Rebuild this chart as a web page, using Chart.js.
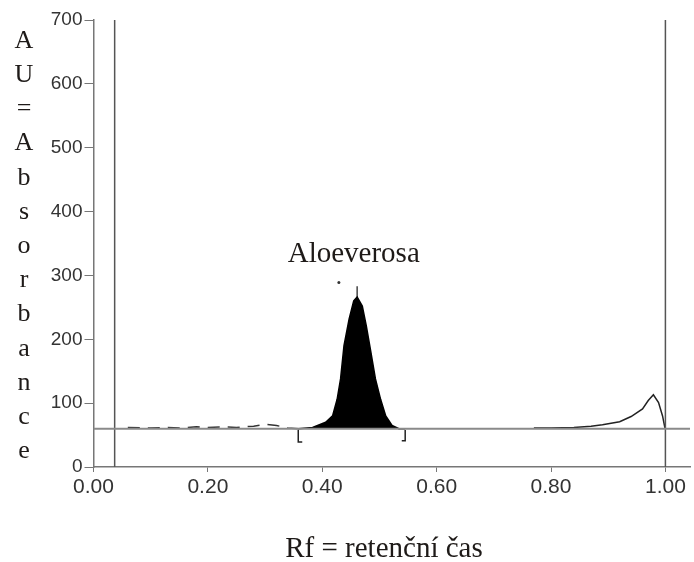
<!DOCTYPE html>
<html>
<head>
<title>Aloeverosa - chromatogram</title>
<script src="https://cdn.jsdelivr.net/npm/chart.js@4.4.0/dist/chart.umd.min.js"></script>
<style>
  body { margin: 0; background: #fff; }
</style>
</head>
<body>
<canvas id="chrom" width="694" height="562"></canvas>
<script>
// axis ticks
const rfTicks = [0, 0.2, 0.4, 0.6, 0.8, 1.0];
const auMax = 700;
const rfMax = 1.043;

// baseline and lane markers (start / front)
const baselineAU = 60;
const laneRf = [0.037, 1.0];

// small noise left of the peak
const noiseRf = [0.06, 0.10, 0.13, 0.15, 0.18, 0.20, 0.23, 0.25, 0.28, 0.30, 0.32, 0.34, 0.36];
const noiseAU = [62, 61, 62, 61, 63, 62, 63, 62, 64, 67, 65, 61, 60];

// main peak - Aloeverosa
const peakRf = [0.358, 0.383, 0.406, 0.418, 0.426, 0.432, 0.438, 0.447, 0.455, 0.461, 0.470, 0.477, 0.485, 0.493, 0.502, 0.511, 0.522, 0.534, 0.545];
const peakAU = [60, 62, 70, 80, 106, 138, 190, 232, 260, 266, 252, 221, 180, 138, 106, 80, 65, 60, 60];

// peak top marker and dot
const markRf = [0.461, 0.461];
const markAU = [266, 283];
const dotRf = [0.429];
const dotAU = [289];

// integration brackets
const bracketLRf = [0.365, 0.358, 0.358];
const bracketLAU = [39, 39, 58];
const bracketRRf = [0.539, 0.545, 0.545];
const bracketRAU = [41, 41, 58];

// bump at the solvent front
const bumpRf = [0.77, 0.80, 0.84, 0.87, 0.89, 0.92, 0.94, 0.96, 0.97, 0.979, 0.988, 0.995, 0.999, 1.0];
const bumpAU = [61, 61, 62, 64, 66, 71, 79, 91, 104, 113, 101, 80, 62, 60];

const yTitle = 'AU = Absorbance';
const xTitle = 'Rf = retenční čas';
const peakName = 'Aloeverosa';

function pts(xs, ys) { return xs.map((x, i) => ({ x: x, y: ys[i] })); }

const serif = '"Liberation Serif", "Times New Roman", serif';

const textPlugin = {
  id: 'texts',
  afterDraw(chart) {
    const ctx = chart.ctx;
    const sx = chart.scales.x, sy = chart.scales.y;
    ctx.save();
    ctx.fillStyle = '#1e1a18';
    ctx.textAlign = 'center';
    ctx.textBaseline = 'middle';
    ctx.font = '26px ' + serif;
    const letters = yTitle.replace(/ /g, '').split('');
    letters.forEach((ch, i) => ctx.fillText(ch, 24, 41 + i * 34.2));
    ctx.textBaseline = 'alphabetic';
    ctx.font = '29px ' + serif;
    ctx.fillText(xTitle, 384, 557);
    ctx.fillText(peakName, sx.getPixelForValue(0.455), 262);
    ctx.restore();
  }
};

const line = (data, extra) => Object.assign({
  data: data, showLine: true, pointRadius: 0, borderColor: '#111',
  borderWidth: 1.5, fill: false, tension: 0
}, extra || {});

new Chart(document.getElementById('chrom'), {
  type: 'scatter',
  data: {
    datasets: [
      line(pts([0, rfMax], [baselineAU, baselineAU]), { borderColor: '#8a8a8a', borderWidth: 2 }),
      line(pts([laneRf[0], laneRf[0]], [0, auMax]), { borderColor: '#555', borderWidth: 1.5 }),
      line(pts([laneRf[1], laneRf[1]], [0, auMax]), { borderColor: '#555', borderWidth: 1.5 }),
      line(pts(noiseRf, noiseAU), { borderDash: [12, 8], borderColor: '#333' }),
      line(pts(peakRf, peakAU), { fill: { value: baselineAU }, backgroundColor: '#000', borderColor: '#000' }),
      line(pts(markRf, markAU), { borderColor: '#444', borderWidth: 1.5 }),
      line(pts(dotRf, dotAU), { showLine: false, pointRadius: 1.5, backgroundColor: '#333', borderWidth: 0 }),
      line(pts(bracketLRf, bracketLAU), { borderColor: '#222', borderWidth: 1.5 }),
      line(pts(bracketRRf, bracketRAU), { borderColor: '#222', borderWidth: 1.5 }),
      line(pts(bumpRf, bumpAU), { borderColor: '#222', borderWidth: 1.5 })
    ]
  },
  options: {
    responsive: false,
    animation: false,
    layout: { padding: { top: 20, left: 0, right: 0, bottom: 0 } },
    plugins: { legend: { display: false }, tooltip: { enabled: false } },
    scales: {
      x: {
        type: 'linear', min: 0, max: rfMax,
        afterBuildTicks: (s) => { s.ticks = rfTicks.map(v => ({ value: v })); },
        afterFit: (s) => { s.height = 95; },
        border: { display: true, color: '#777', width: 1.5 },
        grid: { drawOnChartArea: false, drawTicks: true, tickLength: 5, color: '#777' },
        ticks: {
          color: '#333', padding: 3, maxRotation: 0,
          font: { family: 'Arial, "Liberation Sans", sans-serif', size: 21 },
          callback: (v) => Number(v).toFixed(2)
        }
      },
      y: {
        min: 0, max: auMax,
        afterFit: (s) => { s.width = 93.5; },
        border: { display: true, color: '#777', width: 1.5 },
        grid: { drawOnChartArea: false, drawTicks: true, tickLength: 9, color: '#777' },
        ticks: {
          stepSize: 100, color: '#333', padding: 2,
          font: { family: 'Arial, "Liberation Sans", sans-serif', size: 19 }
        }
      }
    }
  },
  plugins: [textPlugin]
});
</script>
</body>
</html>
